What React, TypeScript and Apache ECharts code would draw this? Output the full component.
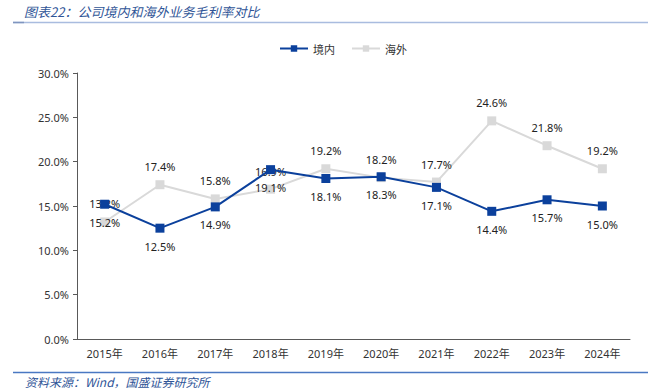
import React, { useEffect, useRef } from "react";
import * as echarts from "echarts";

const categories = ["2015年", "2016年", "2017年", "2018年", "2019年", "2020年", "2021年", "2022年", "2023年", "2024年"];
const domestic = [15.2, 12.5, 14.9, 19.1, 18.1, 18.3, 17.1, 14.4, 15.7, 15.0];
const overseas = [13.2, 17.4, 15.8, 16.9, 19.2, 18.2, 17.7, 24.6, 21.8, 19.2];
const yTicks = { min: 0, max: 30, interval: 5 };
const titleText = "图表22：公司境内和海外业务毛利率对比";
const sourceText = "资料来源：Wind，国盛证券研究所";

export default function App() {
  const ref = useRef<HTMLDivElement>(null);
  useEffect(() => {
    if (!ref.current) return;
    const chart = echarts.init(ref.current, undefined, { renderer: "svg" });
    const font = "'Noto Sans', 'Noto Sans CJK SC', sans-serif";
    chart.setOption({
      animation: false,
      backgroundColor: "#ffffff",
      textStyle: { fontFamily: font },
      graphic: [
        {
          type: "text",
          x: 24,
          y: 11,
          style: {
            text: titleText,
            fill: "#2F5597",
            font: "italic 13px 'Noto Sans CJK SC', sans-serif",
            verticalAlign: "middle",
          },
        },
        {
          type: "line",
          shape: { x1: 13, y1: 22.5, x2: 648, y2: 22.5 },
          style: { stroke: "#A9BCDF", lineWidth: 1.5 },
        },
        {
          type: "line",
          shape: { x1: 13, y1: 22.5, x2: 24, y2: 22.5 },
          style: { stroke: "#7F95BF", lineWidth: 1.5 },
        },
        {
          type: "line",
          shape: { x1: 13, y1: 372.5, x2: 648, y2: 372.5 },
          style: { stroke: "#4A78C2", lineWidth: 1.5 },
        },
        {
          type: "text",
          x: 25,
          y: 381,
          style: {
            text: sourceText,
            fill: "#2F5597",
            font: "italic 12px 'Noto Sans CJK SC', sans-serif",
            verticalAlign: "middle",
          },
        },
      ],
      legend: {
        top: 38,
        left: 274,
        itemWidth: 28,
        itemHeight: 8,
        itemGap: 16,
        textStyle: { fontSize: 11, color: "#333", fontFamily: "'Noto Sans CJK SC', sans-serif" },
        data: ["境内", "海外"],
      },
      grid: { left: 77, right: 26, top: 73, bottom: 52, containLabel: false },
      xAxis: {
        type: "category",
        data: categories,
        boundaryGap: true,
        axisLine: { lineStyle: { color: "#595959", width: 1 } },
        axisTick: { inside: true, length: 4, lineStyle: { color: "#595959" } },
        axisLabel: { fontSize: 11, color: "#333", margin: 9, fontFamily: font },
      },
      yAxis: {
        type: "value",
        min: yTicks.min,
        max: yTicks.max,
        interval: yTicks.interval,
        axisLine: { show: true, lineStyle: { color: "#595959", width: 1 } },
        axisTick: { show: true, length: 4, lineStyle: { color: "#595959" } },
        splitLine: { show: false },
        axisLabel: {
          fontSize: 11,
          color: "#333",
          margin: 8,
          fontFamily: font,
          formatter: (v: number) => v.toFixed(1) + "%",
        },
      },
      series: [
        {
          name: "境内",
          type: "line",
          data: domestic,
          symbol: "rect",
          symbolSize: 9,
          z: 3,
          itemStyle: { color: "#0B409C" },
          lineStyle: { color: "#0B409C", width: 2 },
          label: {
            show: true,
            position: "bottom",
            distance: 8,
            fontSize: 11,
            color: "#222",
            fontFamily: font,
            formatter: (p: any) => p.value.toFixed(1) + "%",
          },
        },
        {
          name: "海外",
          type: "line",
          data: overseas,
          symbol: "rect",
          symbolSize: 9,
          z: 2,
          itemStyle: { color: "#D9D9D9" },
          lineStyle: { color: "#D9D9D9", width: 2 },
          label: {
            show: true,
            position: "top",
            distance: 8,
            fontSize: 11,
            color: "#222",
            fontFamily: font,
            formatter: (p: any) => p.value.toFixed(1) + "%",
          },
        },
      ],
    });
    return () => chart.dispose();
  }, []);
  return (
    <div
      ref={ref}
      style={{ position: "fixed", left: 0, top: 0, width: 656, height: 391, background: "#fff" }}
    />
  );
}
